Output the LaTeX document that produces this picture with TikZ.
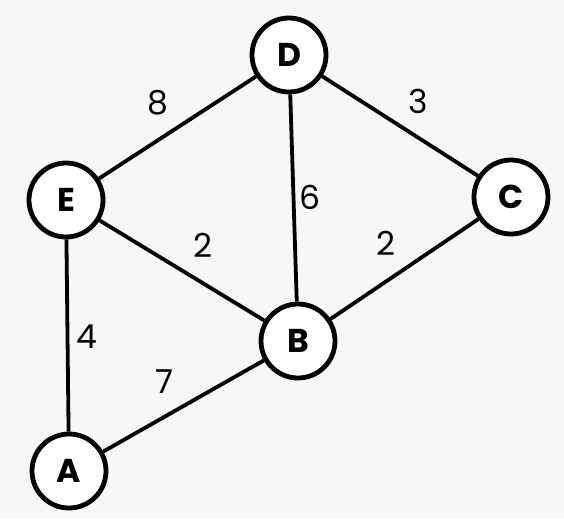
\documentclass[tikz,border=0pt]{standalone}
\usepackage{fontspec}
\setmainfont{Poppins}
\begin{document}
\begin{tikzpicture}[x=1pt,y=-1pt,
  vtx/.style={circle,draw=black,line width=4.8pt,fill=white,minimum size=74pt,inner sep=0pt,font=\fontsize{33}{33}\selectfont\bfseries},
  edge/.style={line width=3.8pt},
  wt/.style={font=\fontsize{33}{33}\selectfont}]
\fill[black!3] (0,0) rectangle (564,519);
\useasboundingbox (0,0) rectangle (564,519);
\node[vtx] (D) at (289,55) {D};
\node[vtx] (E) at (66,200) {E};
\node[vtx] (C) at (511,197) {C};
\node[vtx] (B) at (298,341) {B};
\node[vtx] (A) at (69,471) {A};
\draw[edge] (D) -- (E);
\draw[edge] (D) -- (C);
\draw[edge] (D) -- (B);
\draw[edge] (E) -- (B);
\draw[edge] (C) -- (B);
\draw[edge] (E) -- (A);
\draw[edge] (A) -- (B);
\node[wt] (w1) at (158,103) {8};
\node[wt] (w2) at (418,101) {3};
\node[wt] (w3) at (310,197) {6};
\node[wt] (w4) at (203,245) {2};
\node[wt] (w5) at (386,243) {2};
\node[wt] (w6) at (87,337) {4};
\node[wt] (w7) at (165,382) {7};
\end{tikzpicture}
\end{document}
